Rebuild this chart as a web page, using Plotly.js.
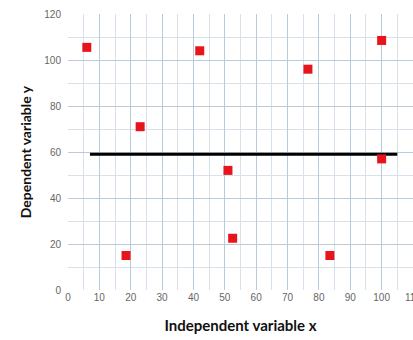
<!DOCTYPE html>
<html>
<head>
<meta charset="utf-8">
<script src="https://cdn.plot.ly/plotly-3.0.1.min.js"></script>
<style>html,body{margin:0;padding:0;background:#fff;}#chart{width:413px;height:340px;}</style>
</head>
<body>
<div id="chart"></div>
<script>
const pointX = [6, 23, 18.5, 42, 51, 52.5, 76.5, 100, 100, 83.5];
const pointY = [105.5, 71, 15, 104, 52, 22.5, 96, 108.5, 57, 15];
const lineX = [7, 105];
const lineY = [59, 59];
const xTitle = "Independent variable x";
const yTitle = "Dependent variable y";

const traces = [
  {
    x: lineX, y: lineY, type: "scatter", mode: "lines",
    line: {color: "#000000", width: 3},
    hoverinfo: "skip"
  },
  {
    x: pointX, y: pointY, type: "scatter", mode: "markers",
    marker: {symbol: "square", size: 9, color: "#e8141c", line: {width: 0}}
  }
];

const layout = {
  width: 413, height: 340,
  margin: {l: 68, r: 0, t: 14, b: 50, pad: 0},
  paper_bgcolor: "#ffffff", plot_bgcolor: "#ffffff",
  showlegend: false,
  font: {family: "Liberation Sans, Arial, sans-serif", color: "#666666", size: 10},
  xaxis: {
    range: [0, 110], dtick: 10, tick0: 0, automargin: false,
    ticklabeloverflow: "allow",
    showgrid: true, gridcolor: "#b9cadb", gridwidth: 1,
    minor: {dtick: 5, showgrid: true, gridcolor: "#d6e1ec", gridwidth: 1},
    zeroline: false, showline: false, ticks: "",
    tickfont: {size: 10, color: "#666666"},
    title: {text: xTitle, standoff: 18, font: {family: "Lato, sans-serif", size: 15, color: "#111111", weight: "bold"}}
  },
  yaxis: {
    range: [0, 120], dtick: 20, tick0: 0, automargin: false,
    showgrid: true, gridcolor: "#b9cadb", gridwidth: 1,
    minor: {dtick: 10, showgrid: true, gridcolor: "#d6e1ec", gridwidth: 1},
    zeroline: false, showline: false, ticks: "",
    ticklabelstandoff: 6,
    tickfont: {size: 10, color: "#666666"},
    title: {text: yTitle, standoff: 9, font: {family: "Lato, sans-serif", size: 14, color: "#111111", weight: "bold"}}
  }
};

Plotly.newPlot("chart", traces, layout, {displayModeBar: false, staticPlot: true});
</script>
</body>
</html>
